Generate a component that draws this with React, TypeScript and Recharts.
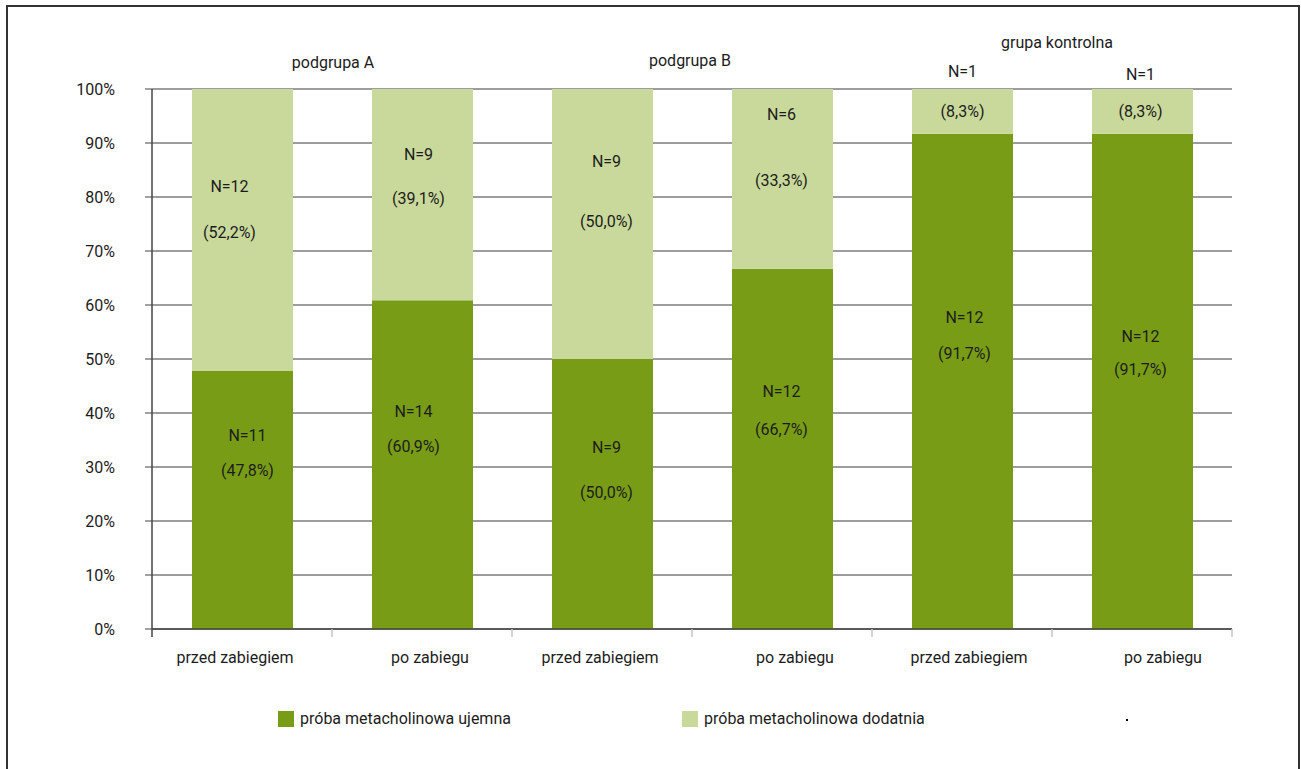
import React from 'react';
import { BarChart, Bar, XAxis, YAxis, CartesianGrid, LabelList } from 'recharts';

// categories along the x axis, two per group
const categories = ['przed zabiegiem', 'po zabiegu', 'przed zabiegiem', 'po zabiegu', 'przed zabiegiem', 'po zabiegu'];
const groups = ['podgrupa A', 'podgrupa B', 'grupa kontrolna'];

// share of patients (%) and counts per category
const negativePct = [47.8, 60.9, 50.0, 66.7, 91.7, 91.7];
const positivePct = [52.2, 39.1, 50.0, 33.3, 8.3, 8.3];
const negativeN = [11, 14, 9, 12, 12, 12];
const positiveN = [12, 9, 9, 6, 1, 1];

const yTicks = [0, 10, 20, 30, 40, 50, 60, 70, 80, 90, 100];
const seriesNames = ['próba metacholinowa ujemna', 'próba metacholinowa dodatnia'];

const data = categories.map((c, i) => ({
  id: i,
  name: c,
  neg: negativePct[i],
  pos: positivePct[i],
}));

const W = 1301;
const H = 769;
const PLOT_LEFT = 152;
const PLOT_RIGHT = 1232;
const PLOT_TOP = 89;
const PLOT_BOTTOM = 629;
const Y_AXIS_W = 100;
const X_AXIS_H = 40;
const BAND = (PLOT_RIGHT - PLOT_LEFT) / categories.length;

const DARK = '#799c16';
const LIGHT = '#c9d99b';
const TEXT = '#1c1c1c';
const FONT = 'Roboto, "Open Sans", sans-serif';

// hand placement of the in-bar labels: [dx, dy of "N=" line, dy of percent line], from segment centre
const negNudge = [[5, -64, -29], [-9, -53, -18], [4, -47, -2], [-1, -57, -19], [2, -64, -28], [-2, -45, -12]];
const posNudge = [[-13, -43, 3], [-4, -40, 4], [4, -63, -3], [-1, -64, 2], [0, -40, 0], [-2, -37, 0]];
const tickShift = [-7, 8, -2, 13, 7, 21];
const groupLabelY = [62, 60, 42];
const groupShift = [1, -2, 5];

const fmtPct = (v: number) => `(${v.toFixed(1).replace('.', ',')}%)`;

const makeSegmentLabel = (counts: number[], pcts: number[], nudge: number[][]) => (props: any) => {
  const { x, y, width, height, index } = props;
  const [dx, dyN, dyP] = nudge[index];
  const cx = Number(x) + Number(width) / 2 + dx;
  const cy = Number(y) + Number(height) / 2;
  return (
    <g>
      <text x={cx} y={cy + dyN} textAnchor="middle" dominantBaseline="central" fill={TEXT} fontSize={16} fontFamily={FONT}>
        {`N=${counts[index]}`}
      </text>
      <text x={cx} y={cy + dyP} textAnchor="middle" dominantBaseline="central" fill={TEXT} fontSize={16} fontFamily={FONT}>
        {fmtPct(pcts[index])}
      </text>
    </g>
  );
};

const CategoryTick = (props: any) => {
  const { x, index } = props;
  const left = x - BAND / 2;
  const right = x + BAND / 2;
  const g = Math.floor(index / 2);
  return (
    <g>
      <line x1={left} x2={left} y1={PLOT_BOTTOM} y2={PLOT_BOTTOM + 8} stroke={index === 0 ? '#444' : '#c4c4c4'} strokeWidth={1.5} />
      {index === categories.length - 1 && (
        <line x1={right} x2={right} y1={PLOT_BOTTOM} y2={PLOT_BOTTOM + 8} stroke="#c4c4c4" strokeWidth={1.5} />
      )}
      <text x={x + tickShift[index]} y={PLOT_BOTTOM + 28} textAnchor="middle" dominantBaseline="central" fill={TEXT} fontSize={16} fontFamily={FONT}>
        {categories[index]}
      </text>
      {index % 2 === 0 && (
        <text x={right + groupShift[g]} y={groupLabelY[g]} textAnchor="middle" dominantBaseline="central" fill={TEXT} fontSize={16} fontFamily={FONT}>
          {groups[g]}
        </text>
      )}
    </g>
  );
};

const legendItems = [
  { name: seriesNames[0], color: DARK, left: 278 },
  { name: seriesNames[1], color: LIGHT, left: 682 },
];

export default function App() {
  return (
    <div style={{ position: 'absolute', left: 0, top: 0, width: W, height: H, overflow: 'hidden', background: '#fff' }}>
      <div
        style={{
          position: 'absolute',
          left: 6,
          top: 5,
          width: 1290,
          height: 820,
          border: '2px solid #333',
        }}
      />
      <div style={{ position: 'absolute', left: 0, top: 0 }}>
        <BarChart
          width={W}
          height={H}
          data={data}
          margin={{
            top: PLOT_TOP,
            right: W - PLOT_RIGHT,
            bottom: H - PLOT_BOTTOM - X_AXIS_H,
            left: PLOT_LEFT - Y_AXIS_W,
          }}
          barSize={101}
        >
          <CartesianGrid vertical={false} stroke="#3a3a3a" />
          <XAxis
            dataKey="id"
            height={X_AXIS_H}
            axisLine={{ stroke: '#444', strokeWidth: 1.5 }}
            tickLine={false}
            tick={<CategoryTick />}
            interval={0}
          />
          <YAxis
            width={Y_AXIS_W}
            domain={[0, 100]}
            ticks={yTicks}
            interval={0}
            tickFormatter={(v: number) => `${v}%`}
            axisLine={{ stroke: '#444', strokeWidth: 1.5 }}
            tickLine={{ stroke: '#444' }}
            tickSize={7}
            tickMargin={30}
            tick={{ fill: TEXT, fontSize: 16, fontFamily: FONT }}
          />
          <Bar dataKey="neg" name={seriesNames[0]} stackId="a" fill={DARK} isAnimationActive={false}>
            <LabelList dataKey="neg" content={makeSegmentLabel(negativeN, negativePct, negNudge)} />
          </Bar>
          <Bar dataKey="pos" name={seriesNames[1]} stackId="a" fill={LIGHT} isAnimationActive={false}>
            <LabelList dataKey="pos" content={makeSegmentLabel(positiveN, positivePct, posNudge)} />
          </Bar>
        </BarChart>
      </div>
      {legendItems.map((it) => (
        <div
          key={it.name}
          style={{
            position: 'absolute',
            left: it.left,
            top: 711,
            display: 'flex',
            alignItems: 'center',
            fontFamily: FONT,
            fontSize: 16,
            color: TEXT,
            lineHeight: '16px',
          }}
        >
          <span style={{ display: 'inline-block', width: 16, height: 16, background: it.color, marginRight: 6 }} />
          <span>{it.name}</span>
        </div>
      ))}
      <div style={{ position: 'absolute', left: 1126, top: 719, width: 2, height: 2, background: '#000' }} />
    </div>
  );
}
